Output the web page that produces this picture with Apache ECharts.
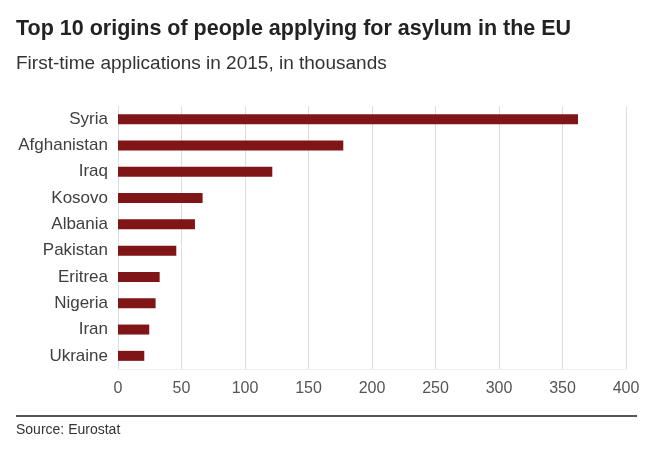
<!DOCTYPE html>
<html>
<head>
<meta charset="utf-8">
<script src="https://cdn.jsdelivr.net/npm/echarts@6/dist/echarts.min.js"></script>
<style>
    html, body { margin: 0; padding: 0; background: #fff; }
    #chart { width: 660px; height: 464px; }
</style>
</head>
<body>
<div id="chart"></div>
<script>
// countries, top to bottom
let countries = ["Syria", "Afghanistan", "Iraq", "Kosovo", "Albania", "Pakistan", "Eritrea", "Nigeria", "Iran", "Ukraine"];
// first-time applications 2015, thousands
let applications = [362.2, 177.4, 121.5, 66.6, 60.6, 45.9, 32.8, 29.6, 24.6, 20.7];
let xTicks = [0, 50, 100, 150, 200, 250, 300, 350, 400];

let chart = echarts.init(document.getElementById("chart"));
let option = {
    animation: false,
    textStyle: {
        fontFamily: "Liberation Sans, Arial, sans-serif"
    },
    title: [{
        text: "Top 10 origins of people applying for asylum in the EU",
        left: 16,
        top: 18,
        padding: 0,
        textStyle: {
            fontSize: 21.5,
            fontWeight: "bold",
            color: "#222"
        }
    }, {
        text: "First-time applications in 2015, in thousands",
        left: 16,
        top: 54,
        padding: 0,
        textStyle: {
            fontSize: 19,
            fontWeight: "normal",
            color: "#333"
        }
    }, {
        text: "Source: Eurostat",
        left: 16,
        top: 423,
        padding: 0,
        textStyle: {
            fontSize: 14,
            fontWeight: "normal",
            color: "#333"
        }
    }],
    graphic: [{
        type: "line",
        shape: { x1: 16, y1: 416, x2: 637, y2: 416 },
        style: { stroke: "#555", lineWidth: 2 }
    }],
    grid: {
        left: 118,
        right: 34,
        top: 106,
        bottom: 95,
        containLabel: false
    },
    xAxis: {
        type: "value",
        min: xTicks[0],
        max: xTicks[xTicks.length - 1],
        interval: 50,
        axisLabel: {
            color: "#555",
            fontSize: 16,
            margin: 12
        },
        axisLine: {
            show: true,
            lineStyle: { color: "#eeeeee", width: 1 }
        },
        axisTick: { show: false },
        splitLine: {
            show: true,
            lineStyle: { color: "#dddddd", width: 1 }
        }
    },
    yAxis: {
        type: "category",
        data: countries,
        inverse: true,
        axisLabel: {
            color: "#404040",
            fontSize: 17,
            margin: 10
        },
        axisLine: { show: false },
        axisTick: { show: false }
    },
    series: [{
        type: "bar",
        data: applications,
        barWidth: 10,
        itemStyle: {
            color: "#7f1517"
        }
    }]
};
chart.setOption(option);
</script>
</body>
</html>
